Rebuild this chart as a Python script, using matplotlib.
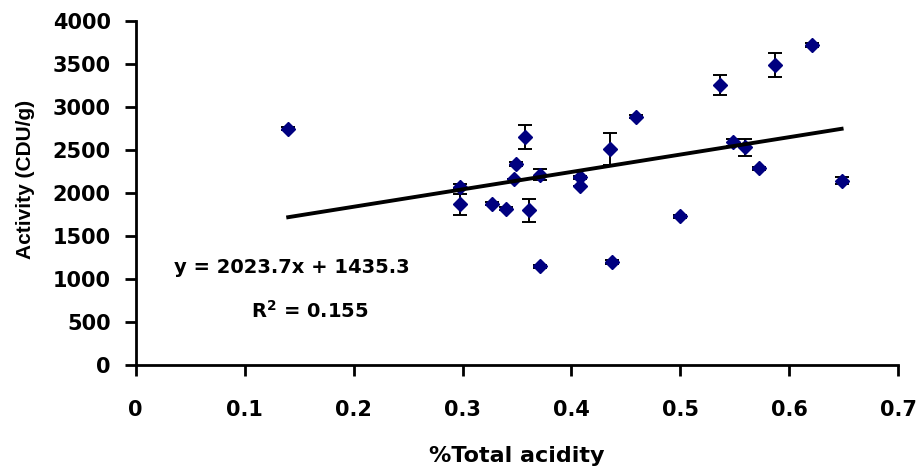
import matplotlib.pyplot as plt
import numpy as np

plt.rcParams['font.family'] = ['DejaVu Sans']
plt.rcParams['font.weight'] = 'bold'
fz = 15

acidity = [0.140, 0.298, 0.298, 0.327, 0.340, 0.349, 0.347, 0.357, 0.361, 0.371,
           0.371, 0.408, 0.408, 0.4355, 0.437, 0.459, 0.500, 0.5366, 0.548, 0.559,
           0.572, 0.5865, 0.621, 0.648]
activity = [2750, 2075, 1867, 1875, 1817, 2338, 2164, 2655, 1797, 2214,
            1148, 2183, 2087, 2512, 1198, 2887, 1728, 3258, 2589, 2531,
            2288, 3490, 3722, 2145]
err = [20, 25, 125, 20, 15, 20, 0, 140, 135, 65,
       20, 15, 0, 185, 20, 15, 15, 116, 40, 95,
       20, 140, 20, 45]

slope = 2023.7
intercept = 1435.3
r2 = 0.155

fig = plt.figure(figsize=(9.18, 4.70), dpi=100)
ax = fig.add_axes([0.1478, 0.2234, 0.8307, 0.7319])

ax.errorbar(acidity, activity, yerr=err, fmt='none', ecolor='k', elinewidth=1.4,
            capsize=5, capthick=1.4, zorder=2)
ax.plot(acidity, activity, 'D', color='#000080', markersize=6.8, zorder=3)

xl = np.array([min(acidity), max(acidity)])
ax.plot(xl, slope * xl + intercept, '-', color='k', linewidth=2.8, zorder=4)

ax.text(0.143, 1128, 'y = %.1fx + %.1f' % (slope, intercept), fontsize=14,
        fontweight='bold', ha='center', va='center')
ax.text(0.160, 628, 'R$^\\mathbf{2}$ = %.3f' % r2, fontsize=14,
        fontweight='bold', ha='center', va='center')

ax.set_xlim(0, 0.7)
ax.set_ylim(0, 4000)
ax.set_xticks([0, 0.1, 0.2, 0.3, 0.4, 0.5, 0.6, 0.7])
ax.set_xticklabels(['0', '0.1', '0.2', '0.3', '0.4', '0.5', '0.6', '0.7'])
ax.set_yticks(range(0, 4001, 500))

for s in ['top', 'right']:
    ax.spines[s].set_visible(False)
for s in ['left', 'bottom']:
    ax.spines[s].set_linewidth(2)
ax.tick_params(axis='x', direction='out', length=8, width=2, pad=17, labelsize=fz)
ax.tick_params(axis='y', direction='out', length=8, width=2, pad=10, labelsize=fz)

ax.set_xlabel('%Total acidity', fontsize=16, fontweight='bold')
ax.xaxis.set_label_coords(0.5, -0.235)
ax.set_ylabel('Activity (CDU/g)', fontsize=15, fontweight='bold',
              family=['Liberation Sans', 'DejaVu Sans'])
ax.yaxis.set_label_coords(-0.132, 0.538)

fig.savefig('out.png', dpi=100)
